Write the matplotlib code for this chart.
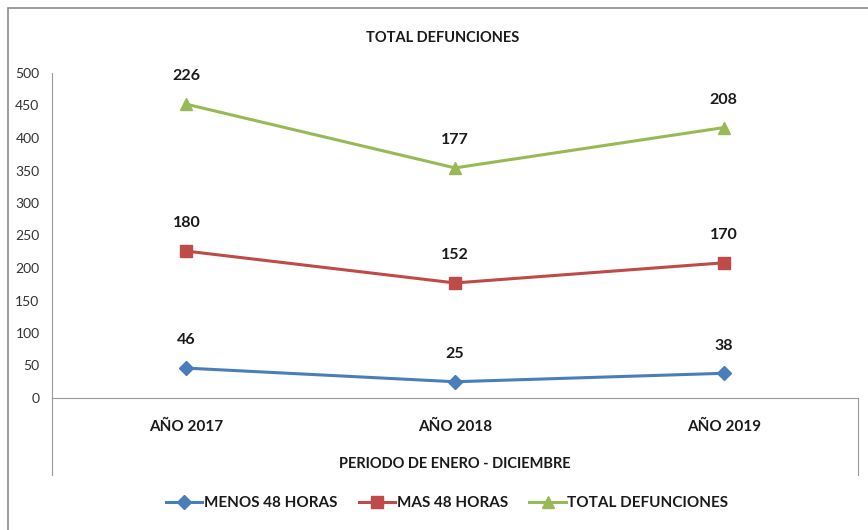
import numpy as np
import matplotlib
matplotlib.use("Agg")
from matplotlib import pyplot as plt
from matplotlib.patches import Rectangle

categories = ["AÑO 2017", "AÑO 2018", "AÑO 2019"]
series_names = ["MENOS 48 HORAS", "MAS 48 HORAS", "TOTAL DEFUNCIONES"]
menos_48 = [46, 25, 38]
mas_48 = [180, 152, 170]
total = [226, 177, 208]

colors = ["#4A7EBB", "#BE4B48", "#98B954"]
markers = ["D", "s", "^"]
msizes = [7, 8, 9]

plt.rcParams["font.family"] = ["Lato", "DejaVu Sans"]

fig = plt.figure(figsize=(8.68, 5.30), dpi=100)
W, H = 868, 530
# outer chart border
fig.patches.append(Rectangle((8 / W, -0.1), 1.0, 1 - 8 / H + 0.1,
                             transform=fig.transFigure, fill=False,
                             edgecolor="#8c8c8c", linewidth=1.2))

left, right, top, bottom = 52, 858, 73, 398
ax = fig.add_axes([left / W, 1 - bottom / H, (right - left) / W, (bottom - top) / H])

# stacked line chart: each series drawn on top of the previous
x = np.arange(len(categories))
stacked = np.cumsum([menos_48, mas_48, total], axis=0)
raw = [menos_48, mas_48, total]
for i, name in enumerate(series_names):
    ax.plot(x, stacked[i], color=colors[i], marker=markers[i], markersize=msizes[i],
            linewidth=2.2, label=name, clip_on=False, zorder=3)
    for xi, yi, v in zip(x, stacked[i], raw[i]):
        ax.annotate(str(v), (xi, yi), xytext=(0, 20), textcoords="offset points",
                    ha="center", va="center", fontsize=11.5, fontweight="bold",
                    color="#1a1a1a")

ax.set_xlim(-0.5, 2.5)
ax.set_ylim(0, 500)
ax.set_yticks(range(0, 501, 50))
ax.set_xticks(x)
ax.set_xticklabels(categories, fontsize=11, fontweight="bold", color="#1a1a1a")
ax.tick_params(axis="x", length=0, pad=16)
ax.tick_params(axis="y", length=0, pad=9, labelsize=10, labelcolor="#333333")
for s in ["top", "right"]:
    ax.spines[s].set_visible(False)
ax.spines["left"].set_color("#9a9a9a")
ax.spines["bottom"].set_color("#9a9a9a")

# category box lines extending below the axis
ext = -(475 - bottom) / (bottom - top)
ax.plot([0, 0], [0, ext], transform=ax.transAxes, color="#9a9a9a", lw=0.8, clip_on=False)
ax.plot([1, 1], [0, ext], transform=ax.transAxes, color="#9a9a9a", lw=0.8, clip_on=False)

fig.text(443 / W, 1 - 38 / H, "TOTAL DEFUNCIONES", ha="center", va="center",
         fontsize=10.5, fontweight="bold", color="#1a1a1a")
fig.text(455 / W, 1 - 464 / H, "PERIODO DE ENERO - DICIEMBRE", ha="center", va="center",
         fontsize=10.5, fontweight="bold", color="#1a1a1a")

leg = fig.legend(loc="center", bbox_to_anchor=(447 / W, 1 - 503 / H), ncol=3,
                 frameon=False, handlelength=2.4, handletextpad=0.1, columnspacing=1.4,
                 prop={"weight": "bold", "size": 11})
for t in leg.get_texts():
    t.set_color("#1a1a1a")

fig.savefig("out.png", dpi=100)
